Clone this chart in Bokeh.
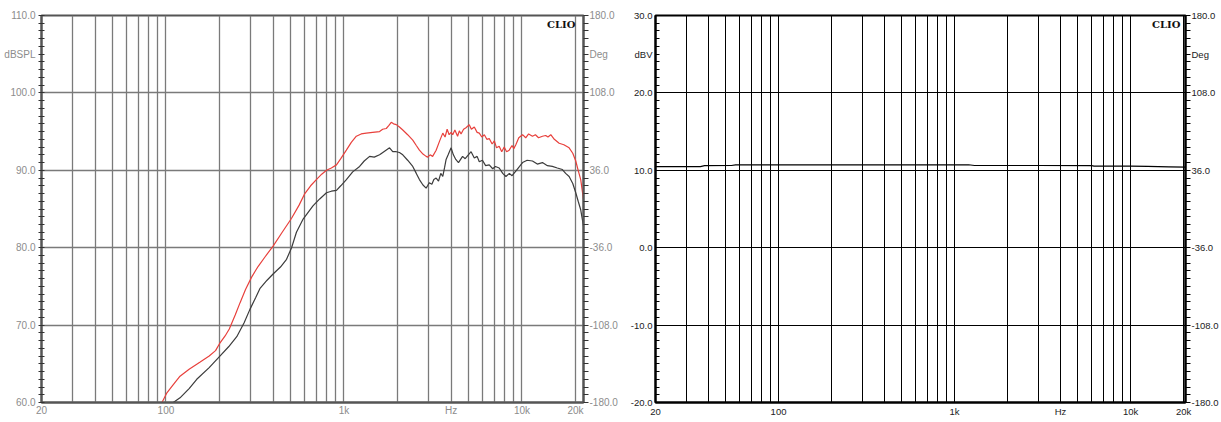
from bokeh.plotting import figure
from bokeh.layouts import row
from bokeh.models import FixedTicker, LinearAxis, Range1d, PrintfTickFormatter, Label
from bokeh.embed import file_html
from bokeh.resources import INLINE

# ---------------- data ----------------
red_freq = [20, 50, 95, 101, 110, 120, 135, 155, 175, 190, 200, 215, 227, 245, 261, 280, 303, 330, 360,
            400, 450, 508, 560, 603, 650, 700, 750, 798, 850, 908, 960, 1032, 1100, 1174, 1250, 1335,
            1450, 1586, 1650, 1729, 1790, 1844, 1900, 1968, 2050, 2141, 2280, 2436, 2550, 2655, 2780,
            2896, 2958, 3050, 3150, 3296, 3450, 3592, 3700, 3800, 3900, 4000, 4083, 4200, 4350, 4450,
            4550, 4700, 4850, 5060, 5200, 5400, 5600, 5760, 5950, 6150, 6350, 6550, 6800, 7000, 7200,
            7450, 7700, 7950, 8200, 8480, 8800, 9000, 9240, 9600, 10080, 10500, 10900, 11460, 11900,
            12400, 13040, 13600, 14000, 14520, 15200, 16180, 17200, 18410, 19300, 20060, 20700, 21390,
            22000, 22174]
red_db = [60.0, 60.0, 60.0, 61.2, 62.3, 63.4, 64.3, 65.2, 66.0, 66.7, 67.6, 68.6, 69.5, 71.3, 72.9, 74.6,
          76.2, 77.6, 78.8, 80.2, 82.0, 83.8, 85.5, 87.0, 88.0, 88.8, 89.5, 90.0, 90.3, 90.7, 91.5, 92.6,
          93.6, 94.4, 94.7, 94.8, 94.9, 95.0, 95.3, 95.4, 95.8, 96.2, 96.0, 95.9, 95.6, 95.2, 94.6, 93.9,
          93.2, 92.6, 92.1, 91.8, 91.7, 92.0, 91.8, 92.6, 93.8, 94.8, 94.3, 95.3, 94.6, 94.9, 94.6, 95.2,
          94.4, 95.1, 94.7, 95.3, 95.5, 95.9, 95.3, 95.6, 94.9, 94.8, 94.3, 94.6, 94.0, 94.1, 93.4, 93.8,
          92.9, 93.1, 92.4, 93.0, 92.4, 92.6, 93.2, 92.8, 93.3, 94.2, 94.6, 94.2, 94.7, 94.4, 94.6, 94.2,
          94.4, 94.5, 94.3, 94.6, 94.0, 93.5, 93.3, 92.9, 92.2, 91.2, 90.0, 88.8, 86.8, 86.2]

blk_freq = [20, 110, 120, 135, 149, 175, 201, 225, 250, 275, 296, 320, 337, 370, 400, 440, 476, 508, 541,
            590, 640, 670, 731, 798, 850, 908, 960, 1032, 1120, 1225, 1300, 1394, 1480, 1586, 1700, 1804,
            1880, 1968, 2050, 2141, 2280, 2436, 2550, 2655, 2780, 2896, 2950, 3015, 3120, 3200, 3296, 3400,
            3500, 3592, 3680, 3750, 3850, 4000, 4120, 4250, 4400, 4640, 4800, 5000, 5180, 5400, 5600, 5760,
            6000, 6250, 6550, 6850, 7100, 7450, 7800, 8130, 8500, 8800, 9240, 9700, 10080, 10700, 11460,
            12200, 13040, 13900, 14820, 15800, 16870, 17600, 18410, 19300, 20060, 20700, 21390, 22174]
blk_db = [60.0, 60.0, 60.6, 61.8, 63.0, 64.5, 66.0, 67.2, 68.5, 70.3, 72.0, 73.6, 74.7, 75.8, 76.6, 77.5,
          78.5, 80.0, 82.0, 83.7, 84.8, 85.4, 86.3, 87.1, 87.3, 87.4, 88.0, 88.8, 89.8, 90.5, 91.2, 91.8,
          91.7, 92.0, 92.5, 92.9, 92.4, 92.4, 92.3, 92.0, 91.3, 90.5, 89.6, 88.8, 88.1, 87.7, 88.0, 88.4,
          88.2, 88.8, 89.0, 88.6, 89.6, 89.2, 90.4, 91.4, 92.0, 92.9, 92.0, 91.4, 91.0, 91.8, 91.5, 92.0,
          92.4, 91.6, 91.8, 91.1, 91.3, 90.6, 90.7, 90.2, 90.5, 90.3, 89.6, 89.2, 89.6, 89.3, 89.9, 90.5,
          91.0, 91.3, 91.2, 90.8, 91.0, 90.6, 90.5, 90.3, 90.1, 89.6, 89.2, 88.3, 87.1, 86.0, 84.9, 82.8]

dbv_freq = [20, 36, 38, 54, 57, 300, 1200, 1300, 3000, 6000, 6200, 10000, 12500, 16500, 20500]
dbv_val = [10.48, 10.48, 10.6, 10.62, 10.7, 10.7, 10.72, 10.62, 10.62, 10.6, 10.55, 10.53, 10.5, 10.45, 10.4]

grid_freqs = [30, 40, 50, 60, 70, 80, 90, 100, 200, 300, 400, 500, 600, 700, 800, 900,
              1000, 2000, 3000, 4000, 5000, 6000, 7000, 8000, 9000, 10000, 20000]
x_tick_vals = [20, 100, 1000, 4000, 10000, 20000]
x_tick_labels = ["20", "100", "1k", "Hz", "10k", "20k"]

spl_ticks = [60, 70, 80, 90, 100, 110]
spl_minor = [v for v in range(60, 111) if v % 10]
spl_unit = (105, "dBSPL")
dbv_ticks = [-20, -10, 0, 10, 20, 30]
dbv_minor = [v for v in range(-20, 31) if v % 10]
dbv_unit = (25, "dBV")
deg_ticks = [-180.0, -108.0, -36.0, 36.0, 108.0, 180.0]
deg_minor = [round(-180 + 7.2 * i, 1) for i in range(51) if i % 10]
deg_unit = (144.0, "Deg")

FONT = "Liberation Sans"


def build(width, height, x_end, y_lo, y_hi, y_ticks, y_minor, unit, borders, c):
    bl, br, bt, bb = borders
    p = figure(width=width, height=height, x_axis_type="log",
               x_range=Range1d(20, x_end), y_range=Range1d(y_lo, y_hi),
               output_backend="svg", toolbar_location=None, title=None,
               min_border_left=bl, min_border_right=br, min_border_top=bt, min_border_bottom=bb)
    p.background_fill_color = "white"
    p.border_fill_color = "white"
    p.outline_line_color = c["frame"]
    p.outline_line_width = 2

    # grids
    p.xgrid.ticker = FixedTicker(ticks=grid_freqs)
    p.ygrid.ticker = FixedTicker(ticks=y_ticks[1:-1])
    for g in (p.xgrid, p.ygrid):
        g.grid_line_color = c["grid"]
        g.grid_line_width = c["gw"]
        g.grid_line_alpha = 1.0

    # x axis
    xa = p.xaxis[0]
    xa.ticker = FixedTicker(ticks=x_tick_vals)
    xa.major_label_overrides = dict(zip(x_tick_vals, x_tick_labels))
    xa.major_tick_line_color = None
    xa.minor_tick_line_color = None
    xa.major_tick_in = 0
    xa.major_tick_out = 0
    xa.minor_tick_in = 0
    xa.minor_tick_out = 0
    xa.axis_line_color = c["frame"]
    xa.axis_line_width = 2
    xa.major_label_standoff = c["xstand"]

    # left y axis
    ya = p.yaxis[0]
    ya.ticker = FixedTicker(ticks=sorted(y_ticks + [unit[0]]), minor_ticks=[m for m in y_minor if m != unit[0]])
    ya.formatter = PrintfTickFormatter(format="%.1f")
    ya.major_label_overrides = {unit[0]: unit[1]}
    ya.axis_line_color = c["frame"]
    ya.axis_line_width = 2
    ya.major_tick_in = c["lin"]
    ya.major_tick_out = c["lout"]
    ya.minor_tick_in = c["lin"]
    ya.minor_tick_out = c["lout"]
    ya.major_tick_line_color = c["tick"]
    ya.minor_tick_line_color = c["tick"]
    ya.major_tick_line_width = 1
    ya.minor_tick_line_width = 1
    ya.major_label_standoff = 3

    # right phase axis
    p.extra_y_ranges = {"deg": Range1d(-180, 180)}
    ra = LinearAxis(y_range_name="deg",
                    ticker=FixedTicker(ticks=sorted(deg_ticks + [deg_unit[0]]),
                                       minor_ticks=[m for m in deg_minor if m != deg_unit[0]]),
                    formatter=PrintfTickFormatter(format="%.1f"))
    ra.major_label_overrides = {deg_unit[0]: deg_unit[1]}
    ra.axis_line_color = c["frame"]
    ra.axis_line_width = 2
    ra.major_tick_in = 0
    ra.major_tick_out = c["rout"]
    ra.minor_tick_in = 0
    ra.minor_tick_out = c["rout"]
    ra.major_tick_line_color = c["tick"]
    ra.minor_tick_line_color = c["tick"]
    ra.major_tick_line_width = 1
    ra.minor_tick_line_width = 1
    ra.major_label_standoff = 1
    p.add_layout(ra, "right")

    for ax in (xa, ya, ra):
        ax.major_label_text_font = FONT
        ax.major_label_text_font_size = c["fs"]
        ax.major_label_text_color = c["text"]

    p.add_layout(Label(x=x_end, y=y_hi, text="CLIO", x_offset=-c["clio_dx"], y_offset=-3,
                       text_align="right", text_baseline="top", text_font="DejaVu Serif",
                       text_font_style="bold", text_font_size="10px", text_color="#111111"))
    return p


left_style = dict(frame="#555555", grid="#7a7a7a", gw=1.3, text="#8c8c8c", tick="#333333",
                  fs="10px", lin=3, lout=3, xstand=2, clio_dx=8, rout=5)
right_style = dict(frame="#000000", grid="#000000", gw=1, text="#222222", tick="#000000",
                   fs="9.5px", lin=4, lout=0, xstand=3, clio_dx=5, rout=5)

p1 = build(620, 422, 22174, 60, 110, spl_ticks, spl_minor, spl_unit, (41, 35, 15, 20), left_style)
p1.line(blk_freq, blk_db, line_color="#3c3c3c", line_width=1.2)
p1.line(red_freq, red_db, line_color="#e8403c", line_width=1.2)

p2 = build(601, 422, 20500, -20, 30, dbv_ticks, dbv_minor, dbv_unit, (35, 36, 15, 20), right_style)
p2.line(dbv_freq, dbv_val, line_color="#000000", line_width=1.2)

layout = row(p1, p2, spacing=0)
open("out.html", "w").write(file_html(layout, INLINE))
